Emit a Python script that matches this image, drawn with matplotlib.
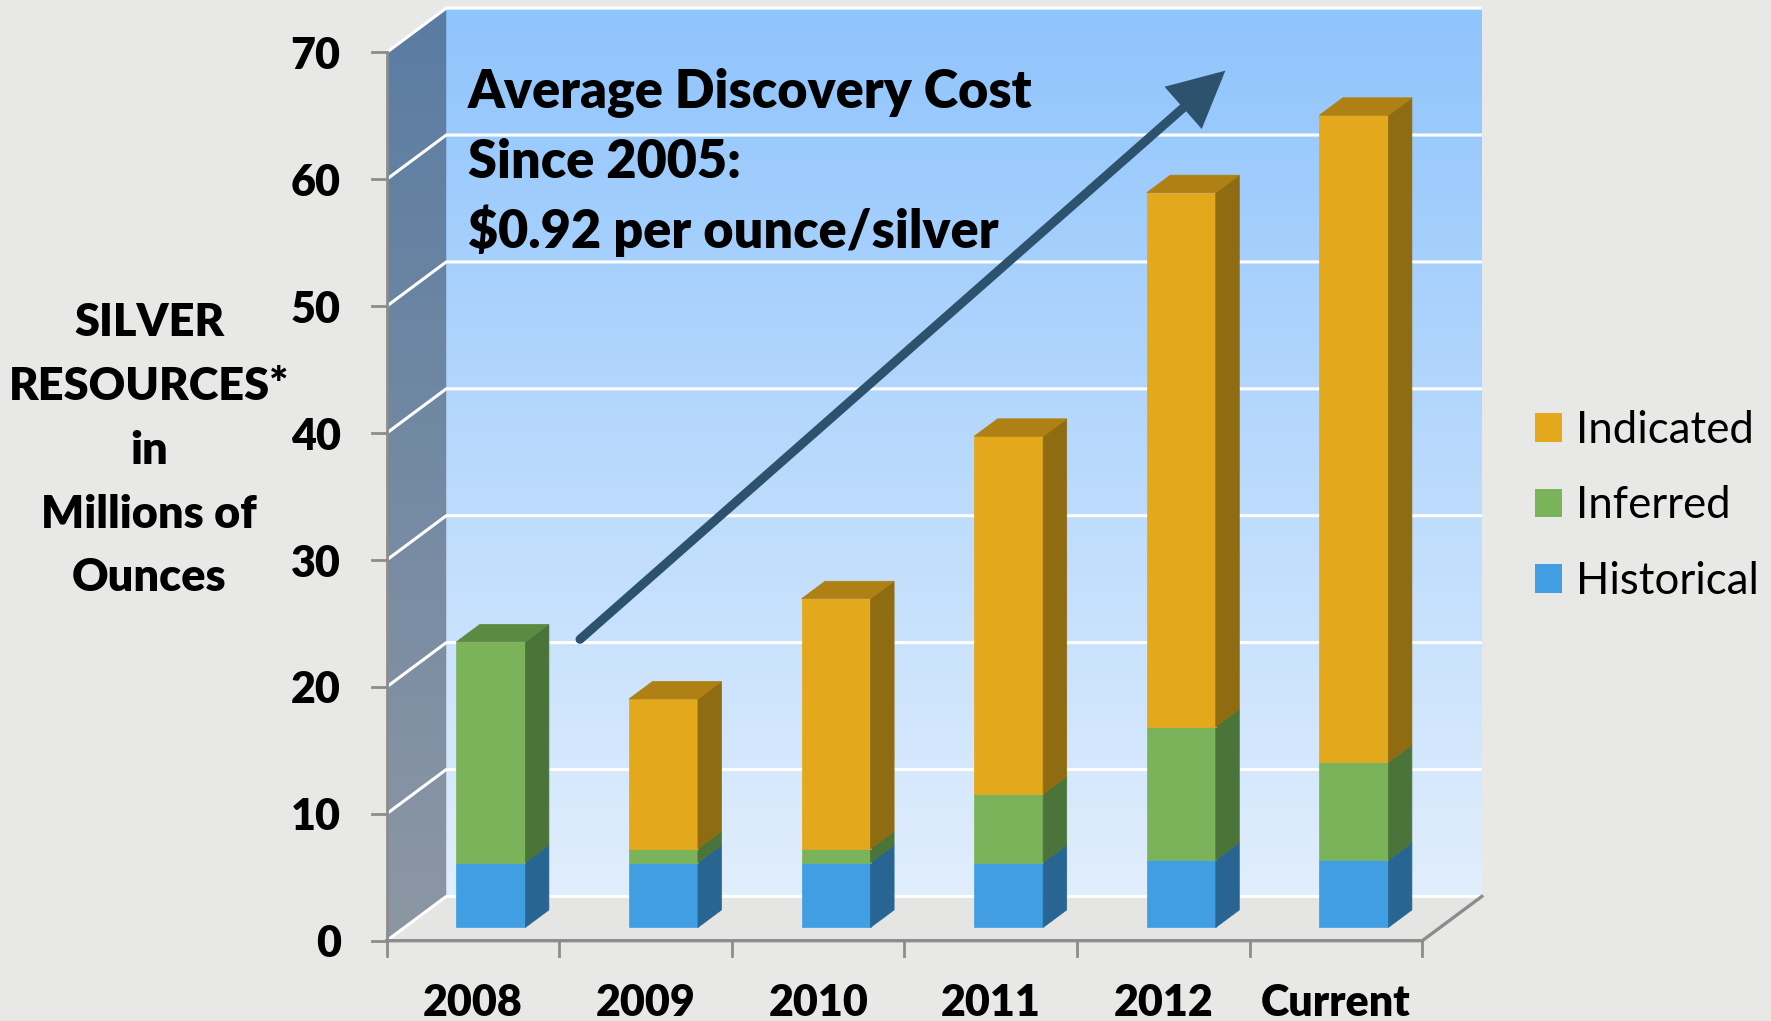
import matplotlib.pyplot as plt
import numpy as np
from matplotlib.patches import Polygon, FancyArrowPatch, Patch, ArrowStyle
from matplotlib.colors import LinearSegmentedColormap

plt.rcParams['font.family'] = ['Lato', 'DejaVu Sans']

# data (millions of ounces)
categories = ['2008', '2009', '2010', '2011', '2012', 'Current']
historical = [5.1, 5.1, 5.1, 5.1, 5.3, 5.3]
inferred = [17.4, 1.1, 1.1, 5.4, 10.5, 7.7]
indicated = [0, 11.8, 19.7, 28.2, 42.1, 51.0]
yticks = [0, 10, 20, 30, 40, 50, 60, 70]

ylabel_lines = ['SILVER', 'RESOURCES*', 'in', 'Millions of', 'Ounces']
note_lines = ['Average Discovery Cost', 'Since 2005:', '$0.92 per ounce/silver']

# name, values, front / side / top colours
series = [
    ('Historical', historical, '#419ee3', '#286592', '#3378b5'),
    ('Inferred', inferred, '#7bb35a', '#4b743a', '#5b8a42'),
    ('Indicated', indicated, '#e3a81b', '#8f6b11', '#af8013'),
]

# oblique depth of the 3d box, in data units
DX, DY = 0.345, 3.49
ymax = 70
n = len(categories)
bar_w = 0.4
d0, d1 = 0.30, 0.695   # front / back depth of the bars
heavy = 'heavy'


def proj(x, y, d):
    return (x + d * DX, y + d * DY)


bg = '#e8e8e6'
fig = plt.figure(figsize=(17.71, 10.21), dpi=100, facecolor=bg)
ax = fig.add_axes([0, 0, 1, 1])
ax.axis('off')

grad = np.linspace(0, 1, 256).reshape(-1, 1)

# back wall
wall_cmap = LinearSegmentedColormap.from_list('wall', ['#e1eefc', '#8fc4fd'])
ax.imshow(grad, extent=[DX, n + DX, DY, ymax + DY], origin='lower',
          cmap=wall_cmap, aspect='auto', zorder=0)

# side wall
side_cmap = LinearSegmentedColormap.from_list('side', ['#8d97a4', '#5a7ca2'])
im = ax.imshow(grad, extent=[0, DX, 0, ymax + DY], origin='lower',
               cmap=side_cmap, aspect='auto', zorder=0)
side = Polygon([proj(0, 0, 0), proj(0, 0, 1), proj(0, ymax, 1), proj(0, ymax, 0)],
               closed=True, facecolor='none', edgecolor='none')
ax.add_patch(side)
im.set_clip_path(side)

# floor
ax.add_patch(Polygon([proj(0, 0, 0), proj(n, 0, 0), proj(n, 0, 1), proj(0, 0, 1)],
                     closed=True, facecolor='#e5e5e4', edgecolor='none', zorder=0.5))

# gridlines on side + back wall
for v in yticks:
    bx, by = proj(0, v, 1)
    ax.plot([0, bx, proj(n, v, 1)[0]], [v, by, by], color='white', lw=2.2,
            zorder=1, solid_capstyle='butt')

# axes lines
axis_col = '#8c8c8c'
ax.plot([0, 0], [0, ymax], color=axis_col, lw=2, zorder=1.5)
ax.plot([0, n, proj(n, 0, 1)[0]], [0, 0, DY], color=axis_col, lw=2.4, zorder=1.5)
for v in yticks:
    ax.plot([-0.087, 0], [v, v], color=axis_col, lw=2, zorder=1.5)
    ax.text(-0.2665, v, str(v), ha='right', va='center_baseline',
            fontsize=31, fontweight=heavy)
for i in range(n + 1):
    ax.plot([i, i], [0, -1.18], color=axis_col, lw=2, zorder=1.5)
for i, c in enumerate(categories):
    ax.text(i + 0.5, -4.64, c, ha='center', va='center_baseline',
            fontsize=31, fontweight=heavy)

# stacked 3d bars
for i in range(n):
    x0 = i + 0.5 - bar_w / 2
    x1 = x0 + bar_w
    bottom = 0
    segs = [(s[1][i], s[2], s[3], s[4]) for s in series if s[1][i] > 0]
    for k, (val, cf, cs, ct) in enumerate(segs):
        top = bottom + val
        ax.add_patch(Polygon([proj(x0, bottom, d0), proj(x1, bottom, d0),
                              proj(x1, top, d0), proj(x0, top, d0)],
                             facecolor=cf, edgecolor=cf, lw=0.5, zorder=3))
        ax.add_patch(Polygon([proj(x1, bottom, d0), proj(x1, bottom, d1),
                              proj(x1, top, d1), proj(x1, top, d0)],
                             facecolor=cs, edgecolor=cs, lw=0.5, zorder=3))
        if k == len(segs) - 1:
            ax.add_patch(Polygon([proj(x0, top, d0), proj(x1, top, d0),
                                  proj(x1, top, d1), proj(x0, top, d1)],
                                 facecolor=ct, edgecolor=ct, lw=0.5, zorder=3))
        bottom = top

# y label, one line at a time
for k, line in enumerate(ylabel_lines):
    ax.text(-1.377, 47.65 - k * 5.03, line, ha='center', va='baseline',
            fontsize=32.5, fontweight=heavy)

# annotation text + arrow
for k, line in enumerate(note_lines):
    ax.text(0.471, 65.64 - k * 5.53, line, ha='left', va='baseline',
            fontsize=37.5, fontweight=heavy, zorder=5)

arrow = FancyArrowPatch((1.120, 23.75), (4.859, 68.56),
                        arrowstyle=ArrowStyle('-|>', head_length=30, head_width=15),
                        mutation_scale=1, lw=6.5, color='#2d526e',
                        capstyle='round', joinstyle='miter',
                        shrinkA=0, shrinkB=0, zorder=4)
ax.add_patch(arrow)

# legend
handles = [Patch(facecolor=s[2], edgecolor='none') for s in series[::-1]]
labels = [s[0] for s in series[::-1]]
ax.legend(handles, labels, loc='center left', bbox_to_anchor=(0.8667, 0.5045),
          bbox_transform=fig.transFigure, frameon=False, fontsize=31.5,
          handlelength=0.62, handleheight=0.62, handletextpad=0.32,
          labelspacing=0.79, borderpad=0, borderaxespad=0)

ax.set_xlim(-2.2404, 8.0203)
ax.set_ylim(-6.328, 74.13)

fig.savefig('out.png', dpi=100, facecolor=bg)
